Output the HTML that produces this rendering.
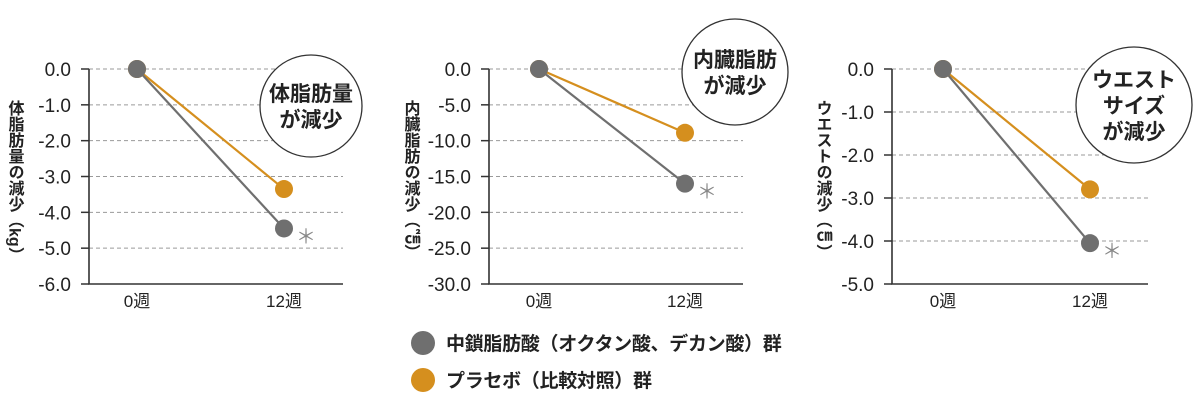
<!DOCTYPE html>
<html><head><meta charset="utf-8">
<style>
html,body{margin:0;padding:0;background:#fff;}
svg{display:block;font-family:"Liberation Sans","Noto Sans CJK JP",sans-serif;}
</style></head>
<body>
<svg id="c" width="1200" height="401" viewBox="0 0 1200 401" xmlns="http://www.w3.org/2000/svg"></svg>
<script>
const categories = ["0週", "12週"];
const mctValues1 = [0, -4.45];
const placeboValues1 = [0, -3.35];
const ticks1 = ["0.0","-1.0","-2.0","-3.0","-4.0","-5.0","-6.0"];
const mctValues2 = [0, -16.0];
const placeboValues2 = [0, -8.9];
const ticks2 = ["0.0","-5.0","-10.0","-15.0","-20.0","-25.0","-30.0"];
const mctValues3 = [0, -4.05];
const placeboValues3 = [0, -2.8];
const ticks3 = ["0.0","-1.0","-2.0","-3.0","-4.0","-5.0"];
const legendLabels = ["中鎖脂肪酸（オクタン酸、デカン酸）群", "プラセボ（比較対照）群"];

const NS = "http://www.w3.org/2000/svg";
const svg = document.getElementById("c");
const GRAY = "#6f6f6f", ORANGE = "#d58f1e";
function mk(tag, attrs, parent, text) {
  const e = document.createElementNS(NS, tag);
  for (const k in attrs) e.setAttribute(k, attrs[k]);
  if (text !== undefined) e.textContent = text;
  (parent || svg).appendChild(e);
  return e;
}

const panels = [
  {ax:89, gridEnd:343, x0:137, x1:284, min:-6, ticks:ticks1, mct:mctValues1, pl:placeboValues1,
   ylabel:"体脂肪量の減少（kg）", lx:14, ly:100, circle:[311,106,51], ctext:["体脂肪量","が減少"], name:"body-fat"},
  {ax:489, gridEnd:743, x0:539, x1:685, min:-30, ticks:ticks2, mct:mctValues2, pl:placeboValues2,
   ylabel:"内臓脂肪の減少（㎠）", lx:410, ly:100, circle:[735,72,53], ctext:["内臓脂肪","が減少"], name:"visceral-fat"},
  {ax:892, gridEnd:1148, x0:943, x1:1090, min:-5, ticks:ticks3, mct:mctValues3, pl:placeboValues3,
   ylabel:"ウエストの減少（㎝）", lx:822, ly:100, circle:[1134,105,58], ctext:["ウエスト","サイズ","が減少"], name:"waist"}
];
const yTop = 69, yBot = 284;

panels.forEach(p => {
  const g = mk("g", {});
  
  
  const y = v => yTop + (0 - v) / (0 - p.min) * (yBot - yTop);
  const xs = [p.x0, p.x1];
  const n = p.ticks.length;
  p.ticks.forEach((t, i) => {
    const v = p.min * i / (n - 1);
    const yy = y(v);
    if (i < n - 1) {
      const gl = mk("line", {x1:p.ax, x2:p.gridEnd, y1:yy, y2:yy, stroke:"#9a9a9a", "stroke-width":1, "stroke-dasharray":"4,3"}, g);
      
      
    }
    const tk = mk("line", {x1:p.ax-8, x2:p.ax, y1:yy, y2:yy, stroke:"#333", "stroke-width":1.5}, g);
    
    
    const tl = mk("text", {x:p.ax-18, y:yy+7, "text-anchor":"end", "font-size":19, fill:"#222"}, g, t);
    
    
  });
  const axis = mk("path", {d:`M${p.ax},${yTop} V${yBot} H${p.gridEnd}`, fill:"none", stroke:"#333", "stroke-width":1.6}, g);
  
  
  categories.forEach((c, i) => {
    const xl = mk("text", {x:xs[i], y:307, "text-anchor":"middle", "font-size":17, fill:"#222"}, g, c);
    
    
  });
  const yl = mk("text", {x:p.lx, y:p.ly, "font-size":16, "font-weight":"bold", fill:"#222", style:"writing-mode:vertical-rl;glyph-orientation-vertical:0"}, g, p.ylabel);
  
  
  [[p.pl, ORANGE, 'placebo'], [p.mct, GRAY, 'mct']].forEach(([vals, col, nm]) => {
    const ln = mk("line", {x1:xs[0], y1:y(vals[0]), x2:xs[1], y2:y(vals[1]), stroke:col, "stroke-width":2.2}, g);
    
    
  });
  [[p.pl, ORANGE, 'placebo'], [p.mct, GRAY, 'mct']].forEach(([vals, col, nm]) => {
    vals.forEach((v, i) => {
      const pt = mk("circle", {cx:xs[i], cy:y(v), r:9, fill:col}, g);
      
      
    });
  });
  const st = mk("text", {x:p.x1+22, y:y(p.mct[1])+15, "text-anchor":"middle", "font-size":20, fill:"#888"}, g, "＊");
  
  
  const [cx, cy, r] = p.circle;
  const cc = mk("circle", {cx, cy, r, fill:"#fff", stroke:"#333", "stroke-width":1.3}, g);
  
  
  const lh = 26, start = cy - (p.ctext.length - 1) * lh / 2 + 8;
  p.ctext.forEach((t, i) => {
    const ct = mk("text", {x:cx, y:start + i*lh, "text-anchor":"middle", "font-size":21, "font-weight":"bold", fill:"#222"}, g, t);
    
    
  });
});

[[GRAY, 343], [ORANGE, 380]].forEach(([col, yy], i) => {
  const lg = mk("g", {});
  
  
  const m = mk("circle", {cx:423, cy:yy, r:12, fill:col}, lg);
  
  
  const t = mk("text", {x:446, y:yy+7, "font-size":19, "font-weight":"bold", fill:"#222", "letter-spacing":"-0.3"}, lg, legendLabels[i]);
  
  
});
</script>
</body></html>
